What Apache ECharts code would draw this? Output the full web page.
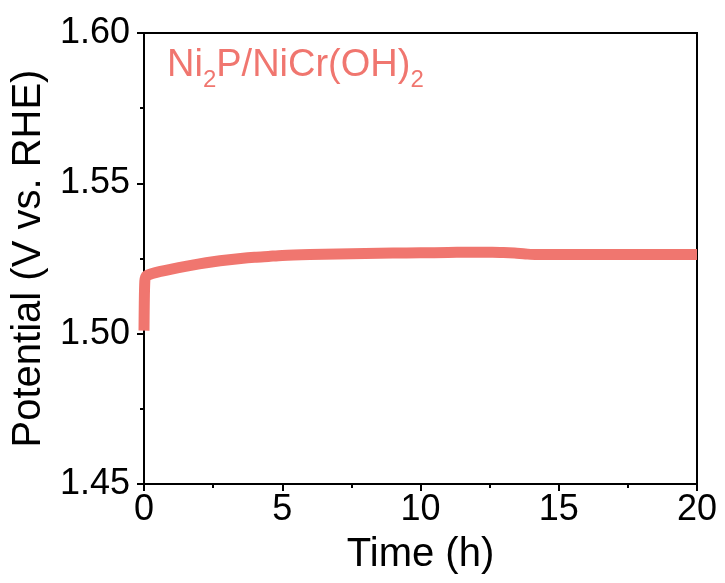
<!DOCTYPE html>
<html>
<head>
<meta charset="utf-8">
<script src="https://cdn.jsdelivr.net/npm/echarts@6/dist/echarts.min.js"></script>
<style>
  html, body { margin: 0; padding: 0; background: #fff; }
  #chart { width: 725px; height: 583px; }
</style>
</head>
<body>
<div id="chart"></div>
<script>
// Chronopotentiometry trace: time (h) vs potential (V vs. RHE)
const timeH = [0, 0.01, 0.03, 0.06, 0.1, 0.3, 0.6, 1, 1.5, 2, 2.5, 3, 3.5, 4, 4.5, 5, 6, 7, 8, 9, 10, 11, 12, 12.6, 13.0, 13.4, 13.8, 14.2, 15, 16, 17, 18, 19, 20];
const potential = [1.501, 1.510, 1.5175, 1.5188, 1.5193, 1.5200, 1.5207, 1.5215, 1.5224, 1.5232, 1.5239, 1.5245, 1.5250, 1.5254, 1.5257, 1.5260, 1.5263, 1.5265, 1.5267, 1.5268, 1.5269, 1.5270, 1.5271, 1.5271, 1.5270, 1.5268, 1.5265, 1.5263, 1.5263, 1.5263, 1.5263, 1.5263, 1.5263, 1.5263];

const xTicks = { min: 0, max: 20, step: 5 };
const yTicks = { min: 1.45, max: 1.60, step: 0.05 };

const lineColor = '#F0766F';
const fontFamily = '"Liberation Sans", Arial, sans-serif';

const chart = echarts.init(document.getElementById('chart'), null, { renderer: 'canvas' });

chart.setOption({
  backgroundColor: '#fff',
  animation: false,
  title: {
    left: 162,
    top: 35,
    text: '{n|Ni}{s|2}{n|P/NiCr(OH)}{s|2}',
    textStyle: {
      fontFamily: fontFamily,
      fontWeight: 'normal',
      rich: {
        n: { fontSize: 38, fontWeight: 'normal', color: lineColor, fontFamily: fontFamily, lineHeight: 40, verticalAlign: 'middle' },
        s: { fontSize: 24, fontWeight: 'normal', color: lineColor, fontFamily: fontFamily, lineHeight: 52, verticalAlign: 'bottom' }
      }
    }
  },
  grid: {
    left: 144, right: 28, top: 33, bottom: 99,
    show: true, borderColor: '#000', borderWidth: 2, backgroundColor: 'transparent'
  },
  xAxis: {
    type: 'value',
    min: xTicks.min, max: xTicks.max, interval: xTicks.step,
    name: 'Time (h)',
    nameLocation: 'middle',
    nameGap: 51,
    nameTextStyle: { fontSize: 40, color: '#000', fontFamily: fontFamily },
    axisLine: { show: true, lineStyle: { color: '#000', width: 2 } },
    axisTick: { show: true, inside: false, length: 7, lineStyle: { color: '#000', width: 2 } },
    minorTick: { show: true, splitNumber: 2, length: 4, lineStyle: { color: '#000', width: 2 } },
    splitLine: { show: false },
    axisLabel: { fontSize: 36, color: '#000', fontFamily: fontFamily, margin: 8 }
  },
  yAxis: {
    type: 'value',
    min: yTicks.min, max: yTicks.max, interval: yTicks.step,
    name: 'Potential (V vs. RHE)',
    nameLocation: 'middle',
    nameGap: 91,
    nameTextStyle: { fontSize: 40, color: '#000', fontFamily: fontFamily },
    axisLine: { show: true, lineStyle: { color: '#000', width: 2 } },
    axisTick: { show: true, inside: false, length: 7, lineStyle: { color: '#000', width: 2 } },
    minorTick: { show: true, splitNumber: 2, length: 4, lineStyle: { color: '#000', width: 2 } },
    splitLine: { show: false },
    axisLabel: {
      fontSize: 36, color: '#000', fontFamily: fontFamily, margin: 14,
      formatter: v => v.toFixed(2)
    }
  },
  series: [{
    type: 'line',
    data: timeH.map((t, i) => [t, potential[i]]),
    showSymbol: false,
    smooth: 0.3,
    clip: true,
    lineStyle: { color: lineColor, width: 11, join: 'round' }
  }]
});
</script>
</body>
</html>
